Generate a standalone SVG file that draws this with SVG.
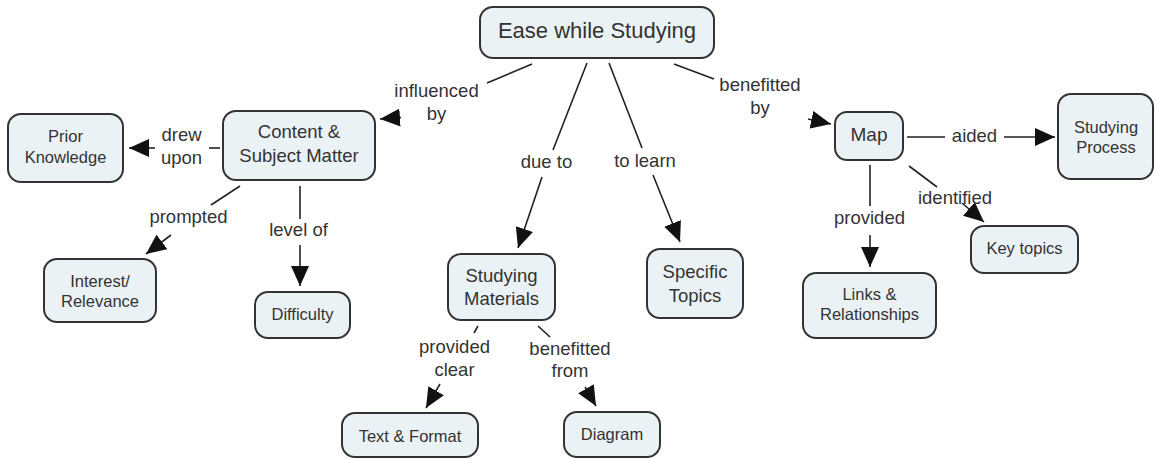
<svg xmlns="http://www.w3.org/2000/svg" width="1155" height="459" viewBox="0 0 1155 459">
  <style>
    .node rect { fill: #ebf2f5; stroke: #333333; stroke-width: 2; }
    .node text { font-family: "Liberation Sans", Arial, sans-serif; fill: #333333; text-anchor: middle; }
    .lbl { font-family: "Liberation Sans", Arial, sans-serif; font-size: 18.5px; fill: #333333; text-anchor: middle; }
    .links line { stroke: #222222; stroke-width: 1.6; fill: none; }
    .links line.arr { marker-end: url(#head); }
  </style>
  <defs>
    <marker id="head" markerUnits="userSpaceOnUse" markerWidth="20" markerHeight="18" refX="20" refY="9" orient="auto" viewBox="0 0 20 18">
      <path d="M0,0 L20,9 L0,18 z" fill="#111111"/>
    </marker>
  </defs>
  <rect width="1155" height="459" fill="#ffffff"/>

  <!-- connectors: source-to-label segment, then label-to-target segment with arrowhead -->
  <g id="connectors" class="links">
    <!-- Ease while Studying -> influenced by -> Content & Subject Matter -->
    <line x1="532" y1="64" x2="487" y2="83"/>
    <line class="arr" x1="401" y1="117.5" x2="380" y2="119"/>
    <!-- due to -->
    <line x1="587" y1="63" x2="553" y2="150"/>
    <line class="arr" x1="542" y1="177" x2="518" y2="248"/>
    <!-- to learn -->
    <line x1="609" y1="63" x2="642" y2="148"/>
    <line class="arr" x1="653" y1="175" x2="680" y2="242"/>
    <!-- benefitted by -->
    <line x1="674" y1="64" x2="714" y2="79"/>
    <line class="arr" x1="808" y1="119" x2="831" y2="124"/>
    <!-- drew upon -->
    <line x1="220" y1="148" x2="209" y2="148"/>
    <line class="arr" x1="155" y1="148" x2="129" y2="148"/>
    <!-- prompted -->
    <line x1="240" y1="186" x2="211" y2="205"/>
    <line class="arr" x1="171" y1="235" x2="146" y2="254"/>
    <!-- level of -->
    <line x1="300" y1="186" x2="300" y2="219"/>
    <line class="arr" x1="300" y1="245" x2="300" y2="286"/>
    <!-- provided clear -->
    <line x1="478" y1="326" x2="474" y2="333"/>
    <line class="arr" x1="440" y1="384" x2="426" y2="408"/>
    <!-- benefitted from -->
    <line x1="538" y1="326" x2="550" y2="337"/>
    <line class="arr" x1="585" y1="387" x2="596" y2="406"/>
    <!-- aided -->
    <line x1="907" y1="137" x2="945" y2="137"/>
    <line class="arr" x1="1004" y1="137" x2="1055" y2="137"/>
    <!-- identified -->
    <line x1="909" y1="166" x2="937" y2="187"/>
    <line class="arr" x1="962" y1="203" x2="984" y2="222"/>
    <!-- provided -->
    <line x1="870" y1="165" x2="870" y2="206"/>
    <line class="arr" x1="870" y1="235" x2="870" y2="267"/>
  </g>

  <!-- link phrases -->
  <g id="labels">
    <text class="lbl" x="436.5" y="97">influenced</text>
    <text class="lbl" x="436.5" y="120">by</text>
    <text class="lbl" x="546.5" y="168">due to</text>
    <text class="lbl" x="645" y="167">to learn</text>
    <text class="lbl" x="760" y="91">benefitted</text>
    <text class="lbl" x="760" y="114">by</text>
    <text class="lbl" x="181.5" y="141">drew</text>
    <text class="lbl" x="181.5" y="164">upon</text>
    <text class="lbl" x="188.5" y="223">prompted</text>
    <text class="lbl" x="298.5" y="236">level of</text>
    <text class="lbl" x="454.5" y="353">provided</text>
    <text class="lbl" x="454.5" y="376">clear</text>
    <text class="lbl" x="570" y="355">benefitted</text>
    <text class="lbl" x="570" y="377">from</text>
    <text class="lbl" x="974.5" y="142">aided</text>
    <text class="lbl" x="955" y="204">identified</text>
    <text class="lbl" x="869.5" y="224">provided</text>
  </g>

  <!-- concepts -->
  <g id="ease" class="node">
    <rect x="480" y="7" width="234" height="51" rx="13"/>
    <text x="597" y="38" font-size="22">Ease while Studying</text>
  </g>
  <g id="prior" class="node">
    <rect x="8" y="114" width="115" height="68" rx="13"/>
    <text x="65.5" y="142" font-size="16.5">Prior</text>
    <text x="65.5" y="163" font-size="16.5">Knowledge</text>
  </g>
  <g id="content" class="node">
    <rect x="223" y="111" width="152" height="69" rx="13"/>
    <text x="299" y="138" font-size="18.5">Content &amp;</text>
    <text x="299" y="162" font-size="18.5">Subject Matter</text>
  </g>
  <g id="interest" class="node">
    <rect x="44" y="259" width="112" height="63" rx="13"/>
    <text x="100" y="287" font-size="16.5">Interest/</text>
    <text x="100" y="307" font-size="16.5">Relevance</text>
  </g>
  <g id="difficulty" class="node">
    <rect x="255" y="292" width="95" height="46" rx="13"/>
    <text x="302.5" y="320" font-size="16.5">Difficulty</text>
  </g>
  <g id="materials" class="node">
    <rect x="448" y="254" width="107" height="66" rx="13"/>
    <text x="501.5" y="282" font-size="18.5">Studying</text>
    <text x="501.5" y="305" font-size="18.5">Materials</text>
  </g>
  <g id="specific" class="node">
    <rect x="647" y="249" width="96" height="69" rx="13"/>
    <text x="695" y="278" font-size="18.5">Specific</text>
    <text x="695" y="302" font-size="18.5">Topics</text>
  </g>
  <g id="textformat" class="node">
    <rect x="342" y="413" width="136" height="44" rx="13"/>
    <text x="410" y="442" font-size="16.5">Text &amp; Format</text>
  </g>
  <g id="diagram" class="node">
    <rect x="564" y="412" width="96" height="45" rx="13"/>
    <text x="612" y="440" font-size="16.5">Diagram</text>
  </g>
  <g id="map" class="node">
    <rect x="835" y="112" width="68" height="48" rx="12"/>
    <text x="869" y="141" font-size="19">Map</text>
  </g>
  <g id="process" class="node">
    <rect x="1058" y="94" width="95" height="85" rx="13"/>
    <text x="1106" y="133" font-size="16.5">Studying</text>
    <text x="1106" y="153" font-size="16.5">Process</text>
  </g>
  <g id="keytopics" class="node">
    <rect x="971" y="226" width="107" height="47" rx="13"/>
    <text x="1024.5" y="254" font-size="16.5">Key topics</text>
  </g>
  <g id="links" class="node">
    <rect x="803" y="273" width="133" height="65" rx="13"/>
    <text x="869.5" y="300" font-size="16.5">Links &amp;</text>
    <text x="869.5" y="320" font-size="16.5">Relationships</text>
  </g>
</svg>
